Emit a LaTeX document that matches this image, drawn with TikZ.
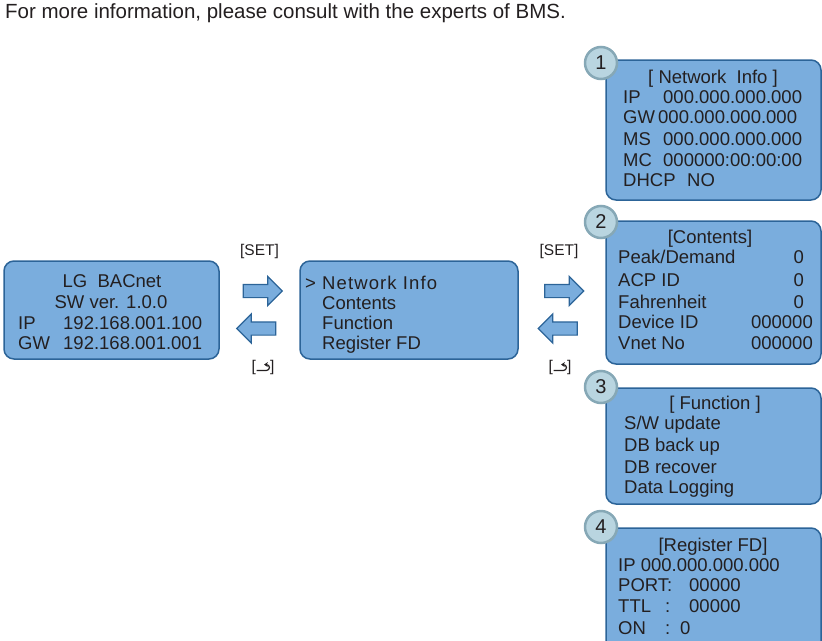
\documentclass[tikz,border=0pt]{standalone}
\usepackage{fontspec}
\setmainfont{Liberation Sans}
\usetikzlibrary{shapes.arrows,arrows.meta}
\definecolor{lcdfill}{RGB}{122,173,221}
\definecolor{lcdline}{RGB}{44,100,152}
\definecolor{numfill}{RGB}{185,213,224}
\definecolor{numline}{RGB}{134,168,182}
\definecolor{txt}{RGB}{35,31,32}
\newcommand{\retsym}{\tikz[baseline=0pt,x=1pt,y=1pt]
  \draw[draw=txt,line width=1.2pt,-{Stealth[length=3.8pt,width=5pt]}] (0,0.6) -- (10,0.6)
  arc[start angle=-90,end angle=90,radius=2.9] -- (7.5,6.4);}
\tikzset{
  lcd/.style={draw=lcdline, fill=lcdfill, line width=1.5pt, rounded corners=10pt, inner sep=0pt},
  num/.style={circle, draw=numline, fill=numfill, line width=2.5pt, minimum size=32pt,
    inner sep=0pt, text=txt, font=\fontsize{20}{20}\selectfont},
  blk/.style={single arrow, draw=lcdline, fill=lcdfill, line width=1.2pt, minimum height=39pt,
    inner sep=6pt, single arrow head extend=8pt},
  key/.style={text=txt, font=\fontsize{15.5}{15.5}\selectfont, inner sep=0pt},
  ln/.style={text=txt, font=\fontsize{18.5}{18.5}\selectfont, inner sep=0pt}
}
\begin{document}
\begin{tikzpicture}[x=1pt,y=-1pt]
  \useasboundingbox (0,0) rectangle (822,640);
  \node[ln, anchor=base west, font=\fontsize{20.5}{20.5}\selectfont] (note) at (5,18.5) {For more information, please consult with the experts of BMS.};

  % screens
  \node[lcd, minimum width=215pt, minimum height=98pt] (start) at (111.5,310) {};
  \node[lcd, minimum width=218pt, minimum height=98pt] (menu) at (409,310) {};
  \node[lcd, minimum width=215pt, minimum height=140pt] (net) at (713.5,130) {};
  \node[lcd, minimum width=215pt, minimum height=143pt] (cont) at (713.5,292.5) {};
  \node[lcd, minimum width=215pt, minimum height=116pt] (func) at (713.5,446) {};
  \node[lcd, minimum width=215pt, minimum height=132pt] (reg) at (713.5,594) {};

  % start screen
  \node[ln, anchor=base] (lg) at (112,287) {LG\ \ BACnet};
  \node[ln, anchor=base] (sw) at (111,308) {SW ver. 1.0.0};
  \node[ln, anchor=base west] (ip) at (18,329) {\makebox[45pt][l]{IP}192.168.001.100};
  \node[ln, anchor=base west] (gw) at (18,349) {\makebox[45pt][l]{GW}192.168.001.001};

  % menu screen
  \node[ln, anchor=base west] (cur) at (305,289) {>};
  \node[ln, anchor=base west] (m1) at (322,289) {\addfontfeatures{LetterSpace=6}Network Info};
  \node[ln, anchor=base west] (m2) at (322,309) {Contents};
  \node[ln, anchor=base west] (m3) at (322,329) {Function};
  \node[ln, anchor=base west] (m4) at (322,349) {Register FD};

  % 1 network info
  \node[ln, anchor=base] (n0) at (713,83) {[ Network\ \ Info ]};
  \node[ln, anchor=base west] (n1) at (623,103) {\makebox[40pt][l]{IP}000.000.000.000};
  \node[ln, anchor=base west] (n2) at (623,123) {\makebox[35pt][l]{GW}000.000.000.000};
  \node[ln, anchor=base west] (n3) at (623,145) {\makebox[40pt][l]{MS}000.000.000.000};
  \node[ln, anchor=base west] (n4) at (623,166) {\makebox[40pt][l]{MC}000000:00:00:00};
  \node[ln, anchor=base west] (n5) at (623,186) {\makebox[64pt][l]{DHCP}NO};

  % 2 contents
  \node[ln, anchor=base] (c0) at (710,243) {[Contents]};
  \node[ln, anchor=base west] (c1) at (618,263) {Peak/Demand};
  \node[ln, anchor=base west] (c2) at (618,286) {ACP ID};
  \node[ln, anchor=base west] (c3) at (618,308) {Fahrenheit};
  \node[ln, anchor=base west] (c4) at (618,328) {Device ID};
  \node[ln, anchor=base west] (c5) at (618,349) {Vnet No};
  \node[ln, anchor=base east] (v1) at (804,263) {0};
  \node[ln, anchor=base east] (v2) at (804,286) {0};
  \node[ln, anchor=base east] (v3) at (804,308) {0};
  \node[ln, anchor=base east] (v4) at (813,328) {000000};
  \node[ln, anchor=base east] (v5) at (813,349) {000000};

  % 3 function
  \node[ln, anchor=base] (f0) at (715,409) {[ Function ]};
  \node[ln, anchor=base west] (f1) at (624,429) {S/W update};
  \node[ln, anchor=base west] (f2) at (624,451) {DB back up};
  \node[ln, anchor=base west] (f3) at (624,473) {DB recover};
  \node[ln, anchor=base west] (f4) at (624,493) {Data Logging};

  % 4 register fd
  \node[ln, anchor=base] (r0) at (713,551) {[Register FD]};
  \node[ln, anchor=base west] (r1) at (618,571) {IP 000.000.000.000};
  \node[ln, anchor=base west] (r2) at (618,591) {\makebox[71pt][l]{PORT:}00000};
  \node[ln, anchor=base west] (r3) at (618,612) {\makebox[47pt][l]{TTL}\makebox[24pt][l]{:}00000};
  \node[ln, anchor=base west] (r4) at (618,634) {\makebox[47pt][l]{ON}\makebox[15pt][l]{:}0};

  % badges
  \node[num] (b1) at (601,63) {1};
  \node[num] (b2) at (601,222) {2};
  \node[num] (b3) at (601,387) {3};
  \node[num] (b4) at (601,527) {4};

  % keys
  \node[blk] (fw1) at (259.5,291) {};
  \node[blk, shape border rotate=180] (bk1) at (259.5,328.5) {};
  \node[blk] (fw2) at (561,291) {};
  \node[blk, shape border rotate=180] (bk2) at (561,328.5) {};
  \node[key] (set1) at (259.5,251.5) {[SET]};
  \node[key] (ret1) at (263,367) {[\retsym]};
  \node[key] (set2) at (559,251.5) {[SET]};
  \node[key] (ret2) at (560,367) {[\retsym]};
\end{tikzpicture}
\end{document}
